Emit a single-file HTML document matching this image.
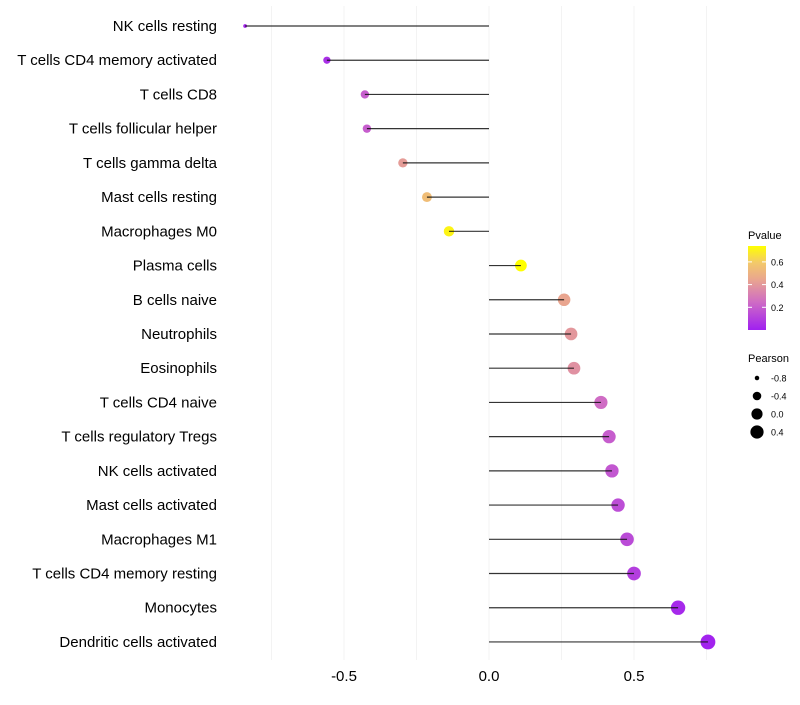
<!DOCTYPE html>
<html><head><meta charset="utf-8"><style>
body{margin:0;background:#fff;}
svg text{font-family:"Liberation Sans",sans-serif;}
</style></head><body>
<svg id="chart" width="800" height="700" xmlns="http://www.w3.org/2000/svg">
<g id="grid"></g>
<g id="ylabels"></g>
<g id="xlabels"></g>
<g id="marks"></g>
<g id="legend"></g>
</svg>
<script>
const categories=["NK cells resting","T cells CD4 memory activated","T cells CD8","T cells follicular helper","T cells gamma delta","Mast cells resting","Macrophages M0","Plasma cells","B cells naive","Neutrophils","Eosinophils","T cells CD4 naive","T cells regulatory  Tregs ","NK cells activated","Mast cells activated","Macrophages M1","T cells CD4 memory resting","Monocytes","Dendritic cells activated"];
const pearson=[-0.841,-0.559,-0.428,-0.421,-0.297,-0.214,-0.138,0.110,0.259,0.283,0.293,0.386,0.414,0.424,0.445,0.476,0.500,0.652,0.755];
const pvalue=[0.02,0.05,0.2,0.2,0.42,0.55,0.72,0.75,0.45,0.4,0.38,0.25,0.2,0.18,0.15,0.14,0.1,0.03,0.01];
const xTicks=[-0.5,0,0.5];
const xTickLabels=["-0.5","0.0","0.5"];
const xGrid=[-0.75,-0.5,-0.25,0,0.25,0.5,0.75];
const pLegendTicks=[0.2,0.4,0.6];
const sizeLegend=[-0.8,-0.4,0.0,0.4];

const NS="http://www.w3.org/2000/svg";
const x=v=>489+v*290;
const y=i=>26+i*34.22;
const r=v=>Math.sqrt(Math.max(0.5,2.25+29.3*(v+0.84)));
const stops=[[0,[160,32,240]],[0.25,[207,108,196]],[0.45,[233,165,143]],[0.6,[243,201,106]],[0.75,[255,255,0]]];
function col(p){
  if(p<=0)return "rgb(160,32,240)";
  for(let k=1;k<stops.length;k++){ if(p<=stops[k][0]){const a=stops[k-1],b=stops[k],t=(p-a[0])/(b[0]-a[0]);
    return "rgb("+a[1].map((c,j)=>Math.round(c+(b[1][j]-c)*t)).join(",")+")";}}
  return "rgb(255,255,0)";
}
function mk(tag,attrs,parent){const e=document.createElementNS(NS,tag);for(const k in attrs)e.setAttribute(k,attrs[k]);parent.appendChild(e);return e;}
const grid=document.getElementById("grid"),yl=document.getElementById("ylabels"),xl=document.getElementById("xlabels"),marks=document.getElementById("marks"),leg=document.getElementById("legend");
xGrid.forEach(v=>{const l=mk("line",{x1:x(v),x2:x(v),y1:6,y2:660,stroke:"#f3f3f3","stroke-width":1},grid);

});
xTicks.forEach((v,i)=>{const t=mk("text",{x:x(v),y:681,"text-anchor":"middle","font-size":15,fill:"#000"},xl);t.textContent=xTickLabels[i];

});
categories.forEach((c,i)=>{
  const t=mk("text",{x:217,y:y(i)+5,"text-anchor":"end","font-size":15,fill:"#000"},yl);t.textContent=c;
  
  
  const g=mk("g",{},marks);
  
  
  const c1=mk("circle",{cx:x(pearson[i]),cy:y(i),r:r(pearson[i])+0.4,fill:col(pvalue[i])},g);
  
  
  const l=mk("line",{x1:x(0),x2:x(pearson[i]),y1:y(i),y2:y(i),stroke:"#111","stroke-width":1.2,"stroke-opacity":0.85},g);
  
  
});
const t1=mk("text",{x:748,y:239,"font-size":11,fill:"#000"},leg);t1.textContent="Pvalue";


const defs=mk("defs",{},leg);
const lg=mk("linearGradient",{id:"pg",x1:0,y1:1,x2:0,y2:0},defs);
stops.forEach(s=>mk("stop",{offset:s[0]/0.75,"stop-color":"rgb("+s[1].join(",")+")"},lg));
const bar=mk("rect",{x:748,y:246,width:18,height:84,fill:"url(#pg)"},leg);


const py=p=>330-p*84/0.74;
pLegendTicks.forEach(p=>{mk("line",{x1:748,x2:752,y1:py(p),y2:py(p),stroke:"#fff"},leg);mk("line",{x1:762,x2:766,y1:py(p),y2:py(p),stroke:"#fff"},leg);
const t=mk("text",{x:771,y:py(p)+3.5,"font-size":9,fill:"#000"},leg);t.textContent=p.toFixed(1);

});
const t2=mk("text",{x:748,y:362,"font-size":11,fill:"#000"},leg);t2.textContent="Pearson";


sizeLegend.forEach((v,i)=>{const cy=378+i*18;
const c=mk("circle",{cx:757,cy:cy,r:r(v)+0.4,fill:"#000"},leg);


const t=mk("text",{x:771,y:cy+3.5,"font-size":9,fill:"#000"},leg);t.textContent=v.toFixed(1);

});
</script>
</body></html>
